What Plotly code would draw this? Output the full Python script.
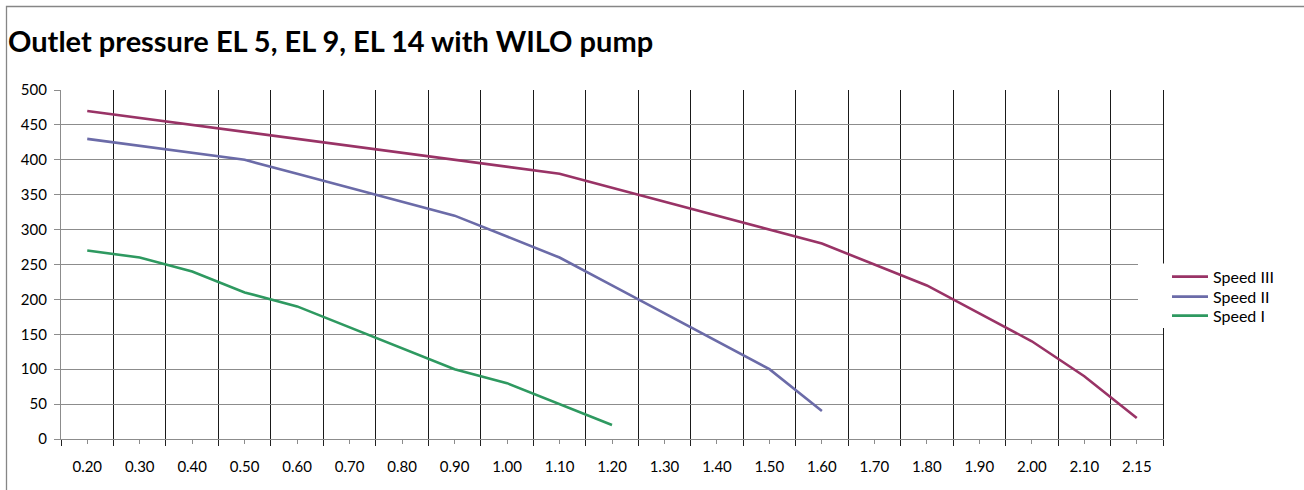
import plotly.graph_objects as go

categories = ["0.20", "0.30", "0.40", "0.50", "0.60", "0.70", "0.80", "0.90", "1.00", "1.10",
              "1.20", "1.30", "1.40", "1.50", "1.60", "1.70", "1.80", "1.90", "2.00", "2.10", "2.15"]
speed_iii = [470, 460, 450, 440, 430, 420, 410, 400, 390, 380, 360, 340, 320, 300, 280, 250, 220, 180, 140, 90, 30]
speed_ii = [430, 420, 410, 400, 380, 360, 340, 320, 290, 260, 220, 180, 140, 100, 40]
speed_i = [270, 260, 240, 210, 190, 160, 130, 100, 80, 50, 20]

series_names = ["Speed III", "Speed II", "Speed I"]
series_colors = ["#993366", "#6B6BA8", "#2E9960"]

W, H = 1304, 490
L, R, T, B = 61, 141, 90, 51
PW, PH = W - L - R, H - T - B


def px_x(p):
    return (p - L) / PW


def px_y(p):
    return (H - B - p) / PH


FONT = "Lato"
legend_ids = ["legend", "legend2", "legend3"]
legend_rows_px = [276.7, 296.7, 315.7]

fig = go.Figure()
for name, vals, col, lid in zip(series_names, [speed_iii, speed_ii, speed_i], series_colors, legend_ids):
    fig.add_trace(go.Scatter(
        x=categories[:len(vals)], y=vals, name=name, mode="lines",
        line=dict(color=col, width=2.6), legend=lid,
    ))

# helper trace on overlay axes: draws the short category-centre ticks and the right frame line
fig.add_trace(go.Scatter(
    x=categories, y=speed_iii, xaxis="x2", yaxis="y2", mode="lines",
    line=dict(width=0, color="rgba(0,0,0,0)"), showlegend=False, hoverinfo="skip",
))

legend_layout = {}
for lid, row in zip(legend_ids, legend_rows_px):
    legend_layout[lid] = dict(x=px_x(1167), xanchor="left", y=px_y(row), yanchor="middle",
                              bgcolor="rgba(0,0,0,0)", font=dict(family=FONT, size=16),
                              itemwidth=36)

fig.update_layout(
    width=W, height=H,
    margin=dict(l=L, r=R, t=T, b=B, pad=0),
    paper_bgcolor="white", plot_bgcolor="white",
    font=dict(family=FONT, size=15, color="#000000"),
    title=dict(text="<b>Outlet pressure EL 5, EL 9, EL 14 with WILO pump</b>",
               x=8 / W, xref="container", xanchor="left",
               y=1 - 42 / H, yref="container", yanchor="middle",
               font=dict(family=FONT, size=29, color="#000000")),
    xaxis=dict(type="category", categoryorder="array", categoryarray=categories,
               range=[-0.5, len(categories) - 0.5],
               tickson="boundaries", ticks="outside", ticklen=6, tickcolor="#222222",
               tickwidth=1.3,
               showgrid=True, gridcolor="#1a1a1a", gridwidth=1.3,
               showline=True, linecolor="#8c8c8c", linewidth=1.3,
               ticklabelstandoff=14, tickfont=dict(size=15), zeroline=False),
    xaxis2=dict(type="category", categoryorder="array", categoryarray=categories,
                range=[-0.5, len(categories) - 0.5], overlaying="x", anchor="y2",
                side="bottom", ticks="outside", ticklen=4, tickcolor="#8c8c8c",
                tickwidth=1.3, showticklabels=False, showgrid=False, showline=False,
                zeroline=False),
    yaxis=dict(range=[0, 500], dtick=50, ticks="outside", ticklen=6, tickcolor="#8c8c8c",
               tickwidth=1.3, showgrid=True, gridcolor="#8c8c8c", gridwidth=1.3,
               showline=True, linecolor="#8c8c8c", linewidth=1.3, zeroline=False,
               ticklabelstandoff=4, tickfont=dict(size=15)),
    yaxis2=dict(range=[0, 500], overlaying="y", anchor="x2", side="right",
                showline=True, linecolor="#1a1a1a", linewidth=1.3, ticks="",
                showticklabels=False, showgrid=False, zeroline=False),
    shapes=[
        dict(type="rect", xref="paper", yref="paper",
             x0=px_x(6.5), x1=px_x(1320), y0=px_y(500), y1=px_y(6.5),
             line=dict(color="#868686", width=1.3), fillcolor="rgba(0,0,0,0)", layer="below"),
        dict(type="rect", xref="paper", yref="paper",
             x0=px_x(1138), x1=px_x(1168), y0=px_y(328), y1=px_y(263.5),
             line=dict(width=0), fillcolor="white", layer="above"),
    ],
    **legend_layout,
)

fig.write_html("out.html", config={"displayModeBar": False},
               post_script="document.body.style.margin='0';")
